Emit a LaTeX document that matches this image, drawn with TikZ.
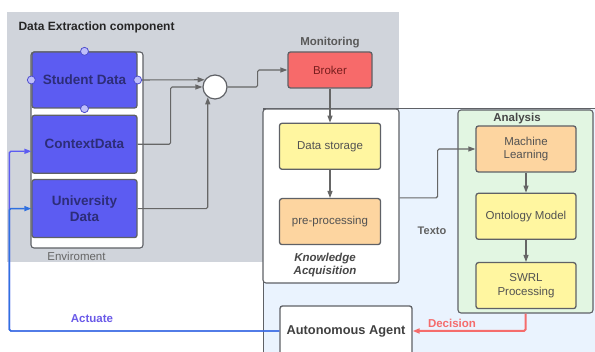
\documentclass[tikz,border=0pt]{standalone}
\usepackage{fontspec}
\setmainfont{Liberation Sans}
\usepackage{xcolor}
\usetikzlibrary{positioning,arrows.meta,calc}

\definecolor{panelgray}{RGB}{208,212,219}
\definecolor{paleblue}{RGB}{234,243,254}
\definecolor{palegreen}{RGB}{226,246,226}
\definecolor{boxyellow}{RGB}{255,246,160}
\definecolor{boxorange}{RGB}{253,213,160}
\definecolor{brokerred}{RGB}{247,106,106}
\definecolor{datablue}{RGB}{92,92,242}
\definecolor{datatext}{RGB}{45,45,120}
\definecolor{edgegray}{RGB}{95,97,102}
\definecolor{actblue}{RGB}{47,112,224}
\definecolor{actlabel}{RGB}{106,90,232}
\definecolor{decred}{RGB}{245,108,108}

\begin{document}
\begin{tikzpicture}[x=1pt, y=1pt,
  node distance=28pt,
  box/.style={draw=edgegray, line width=1.3pt, rounded corners=2.5pt, align=center, font=\fontsize{11.5}{13.5}\selectfont, text=black!68, minimum width=101pt, minimum height=46pt, inner sep=2pt, fill=#1},
  box/.default=white,
  data/.style={box=datablue, minimum width=105pt, font=\fontsize{13.5}{15.5}\selectfont\bfseries, text=datatext},
  handle/.style={circle, draw=datablue!85!black, fill=datablue!40, line width=0.8pt, minimum size=8pt, inner sep=0pt},
  frame/.style={draw=edgegray, line width=1.1pt, rounded corners=3pt, fill=#1, inner sep=0pt},
  arr/.style={-{Triangle[length=7pt, width=5pt]}, draw=black!60, line width=1.1pt, rounded corners=1.5pt},
  lab/.style={font=\fontsize{11.5}{13}\selectfont\bfseries, text=black!65}]
  \useasboundingbox (0,0) rectangle (595,352);
  % panels behind the components
  \fill[panelgray] (7,90) rectangle (399,340);
  \draw[edgegray, line width=1pt, fill=paleblue] (263,-5) rectangle (600,243);
  \node[frame=white, minimum width=136pt, minimum height=174pt] (kacq) at (331,156) {};
  \node[frame=palegreen, minimum width=135pt, minimum height=203pt] (ana) at (525.5,140.5) {};
  \node[frame=white, minimum width=112pt, minimum height=196pt] (env) at (87,202) {};
  % data sources
  \node[data, minimum height=56pt] (stu) at (84.5,272) {Student Data};
  \node[data, minimum height=58pt, below=6pt of stu] (ctx) {ContextData};
  \node[data, minimum height=58pt, below=5pt of ctx] (uni) {University\\Data};
  \node[circle, draw=edgegray, fill=white, line width=1.2pt, minimum size=24pt] (mrg) at (215,265) {};
  % monitoring and knowledge acquisition
  \node[box=brokerred, minimum width=84pt, minimum height=36pt, text={rgb,255:red,120;green,30;blue,30}] (brk) at (330,282) {Broker};
  \node[box=boxyellow, below=34pt of brk] (dst) {Data storage};
  \node[box=boxorange, below=of dst] (pre) {pre-processing};
  % analysis
  \node[box=boxorange, minimum width=100pt] (ml) at (526,203) {Machine\\Learning};
  \node[box=boxyellow, minimum width=100pt, below=20pt of ml] (ont) {Ontology Model};
  \node[box=boxyellow, minimum width=100pt, below=22pt of ont] (swrl) {SWRL\\Processing};
  \node[box, minimum width=132pt, minimum height=50pt, font=\fontsize{12.8}{15}\selectfont\bfseries, text=black!75] (agt) at (346,21) {Autonomous Agent};
  % connectors
  \draw[arr] (stu.east) -- (mrg.145);
  \draw[arr] (ctx.east) -- ++(33,0) |- (mrg.west);
  \draw[arr] (uni.east) -| (mrg.235);
  \draw[arr] (mrg.east) -- ++(30,0) |- (brk.west);
  \draw[arr] (brk) -- (dst);
  \draw[arr] (dst) -- (pre);
  \draw[arr] (kacq.east |- pre.north) -- ++(38,0) |- (ml.west);
  \draw[arr] (ml) -- (ont);
  \draw[arr] (ont) -- (swrl);
  \draw[arr, draw=decred, line width=2pt] (ana.south) |- (agt.east);
  \draw[arr, draw=datablue, line width=1.4pt] (agt.west) -- ++(-270,0) |- ([yshift=-7pt]ctx.west);
  \draw[arr, draw=actblue, line width=1.4pt] (agt.west) -- ++(-270,0) |- (uni.west);
  \foreach \a/\n in {north/hn, west/hw, east/he, south/hs}
    \node[handle] (\n) at (stu.\a) {};
  % titles and labels
  \node[lab, anchor=west, text=black!85, font=\fontsize{12}{14}\selectfont\bfseries] (dtitle) at (15,325) {Data Extraction component};
  \node[font=\fontsize{11.5}{13}\selectfont, text=black!60, below=0pt of env, xshift=-10.5pt] (envlab) {Enviroment};
  \node[lab, above=0pt of brk] (monlab) {Monitoring};
  \node[lab, font=\fontsize{11.5}{12.5}\selectfont\bfseries\itshape, text=black!72, align=center] (kalab) at (325,87) {Knowledge\\Acquisition};
  \node[lab, text=black!72] (analab) at (517,233) {Analysis};
  \node[lab, font=\fontsize{11}{13}\selectfont\bfseries, text=black!62] (texto) at (432,121) {Texto};
  \node[lab, text=actlabel] (actlab) at (92,33) {Actuate};
  \node[lab, text=decred] (declab) at (452,29) {Decision};
\end{tikzpicture}
\end{document}
